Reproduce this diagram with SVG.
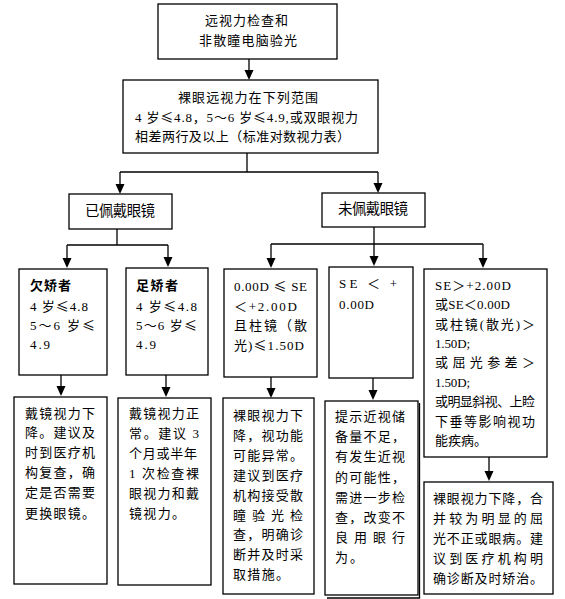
<svg xmlns="http://www.w3.org/2000/svg" width="565" height="599" viewBox="0 0 565 599">
<style>
.b{fill:#fff;stroke:#000;stroke-width:1.3}
.t{font-family:"Liberation Serif","Noto Sans CJK SC",serif;font-size:13px;fill:#000}
.h{font-family:"Noto Sans CJK SC","Liberation Sans",sans-serif;font-size:14.5px;fill:#000}
.cj{font-family:"Noto Sans CJK SC",sans-serif}
.bd{font-weight:bold}
.c{fill:none;stroke:#000;stroke-width:1.3}
</style>
<rect width="565" height="599" fill="#fff"/>
<g id="connectors">
<line class="c" x1="249" y1="59" x2="249" y2="72"/>
<line class="c" x1="247" y1="153" x2="247" y2="172"/>
<line class="c" x1="120" y1="172" x2="378" y2="172"/>
<line class="c" x1="117" y1="229" x2="117" y2="245"/>
<line class="c" x1="67" y1="245" x2="168" y2="245"/>
<line class="c" x1="374" y1="227" x2="374" y2="244"/>
<line class="c" x1="271" y1="244" x2="483" y2="244"/>
<g fill="#000">
<path d="M244.5,70 L253.5,70 L249,80 Z"/>
<line class="c" x1="120" y1="172" x2="120" y2="186"/><path d="M115.5,184 L124.5,184 L120,194 Z"/>
<line class="c" x1="378" y1="172" x2="378" y2="185"/><path d="M373.5,183 L382.5,183 L378,193 Z"/>
<line class="c" x1="67" y1="245" x2="67" y2="260"/><path d="M62.5,258 L71.5,258 L67,268 Z"/>
<line class="c" x1="168" y1="245" x2="168" y2="259"/><path d="M163.5,257 L172.5,257 L168,267 Z"/>
<line class="c" x1="271" y1="244" x2="271" y2="260"/><path d="M266.5,258 L275.5,258 L271,268 Z"/>
<line class="c" x1="374" y1="244" x2="374" y2="258"/><path d="M369.5,256 L378.5,256 L374,266 Z"/>
<line class="c" x1="483" y1="244" x2="483" y2="260"/><path d="M478.5,258 L487.5,258 L483,268 Z"/>
<line class="c" x1="61" y1="375" x2="61" y2="388"/><path d="M56.5,386 L65.5,386 L61,396 Z"/>
<line class="c" x1="166" y1="375" x2="166" y2="389"/><path d="M161.5,387 L170.5,387 L166,397 Z"/>
<line class="c" x1="271" y1="377" x2="271" y2="390"/><path d="M266.5,388 L275.5,388 L271,398 Z"/>
<line class="c" x1="373" y1="378" x2="373" y2="392"/><path d="M368.5,390 L377.5,390 L373,400 Z"/>
<line class="c" x1="489" y1="457" x2="489" y2="473"/><path d="M484.5,471 L493.5,471 L489,481 Z"/>
</g>
</g>
<g id="n-top">
<rect class="b" x="158" y="4" width="179" height="55"/>
<text class="t" x="205" y="25" textLength="83" lengthAdjust="spacing">远视力检查和</text>
<text class="t" x="199" y="45" textLength="98" lengthAdjust="spacing">非散瞳电脑验光</text>
</g>
<g id="n-range">
<rect class="b" x="123" y="80" width="255" height="73"/>
<text class="t" x="178" y="102" textLength="140" lengthAdjust="spacing">裸眼远视力在下列范围</text>
<text class="t" x="135" y="122" textLength="223" lengthAdjust="spacing">4 岁<tspan class="cj">≤</tspan>4.8，5～6 岁<tspan class="cj">≤</tspan>4.9,或双眼视力</text>
<text class="t" x="135" y="141" textLength="215" lengthAdjust="spacing">相差两行及以上（标准对数视力表）</text>
</g>
<g id="n-worn">
<rect class="b" x="69" y="194" width="103" height="35"/>
<text class="h" x="85" y="216" textLength="70" lengthAdjust="spacing">已佩戴眼镜</text>
</g>
<g id="n-notworn">
<rect class="b" x="322" y="193" width="103" height="34"/>
<text class="h" x="338" y="214" textLength="70" lengthAdjust="spacing">未佩戴眼镜</text>
</g>
<g id="n-under">
<rect class="b" x="19" y="269" width="88" height="106"/>
<text class="t bd" x="30" y="290" textLength="41" lengthAdjust="spacing">欠矫者</text>
<text class="t" x="30" y="311" textLength="58" lengthAdjust="spacing">4 岁<tspan class="cj">≤</tspan>4.8</text>
<text class="t" x="30" y="330" textLength="65" lengthAdjust="spacing">5～6 岁<tspan class="cj">≤</tspan></text>
<text class="t" x="30" y="349" textLength="20" lengthAdjust="spacing">4.9</text>
</g>
<g id="n-full">
<rect class="b" x="126" y="268" width="82" height="107"/>
<text class="t bd" x="136" y="290" textLength="42" lengthAdjust="spacing">足矫者</text>
<text class="t" x="136" y="311" textLength="61" lengthAdjust="spacing">4 岁<tspan class="cj">≤</tspan>4.8</text>
<text class="t" x="136" y="330" textLength="61" lengthAdjust="spacing">5～6 岁<tspan class="cj">≤</tspan></text>
<text class="t" x="136" y="349" textLength="20" lengthAdjust="spacing">4.9</text>
</g>
<g id="n-se0">
<rect class="b" x="224" y="269" width="93" height="108"/>
<text class="t" x="234" y="291" textLength="73" lengthAdjust="spacing">0.00D <tspan class="cj">≤</tspan> SE</text>
<text class="t" x="234" y="311" textLength="63" lengthAdjust="spacing">＜+2.00D</text>
<text class="t" x="234" y="330" textLength="73" lengthAdjust="spacing">且柱镜（散</text>
<text class="t" x="234" y="350" textLength="70" lengthAdjust="spacing">光)<tspan class="cj">≤</tspan>1.50D</text>
</g>
<g id="n-seneg">
<rect class="b" x="329" y="267" width="84" height="111"/>
<text class="t" x="339" y="288" textLength="58" lengthAdjust="spacing">SE ＜ +</text>
<text class="t" x="339" y="309" textLength="35" lengthAdjust="spacing">0.00D</text>
</g>
<g id="n-other">
<rect class="b" x="424" y="269" width="123" height="188"/>
<text class="t" x="435" y="290" textLength="76" lengthAdjust="spacing">SE＞+2.00D</text>
<text class="t" x="435" y="309" textLength="75" lengthAdjust="spacing">或SE＜0.00D</text>
<text class="t" x="435" y="329" textLength="100" lengthAdjust="spacing">或柱镜(散光)＞</text>
<text class="t" x="435" y="348" textLength="35" lengthAdjust="spacing">1.50D;</text>
<text class="t" x="435" y="367" textLength="100" lengthAdjust="spacing">或屈光参差＞</text>
<text class="t" x="435" y="387" textLength="35" lengthAdjust="spacing">1.50D;</text>
<text class="t" x="435" y="406" textLength="100" lengthAdjust="spacing">或明显斜视、上睑</text>
<text class="t" x="435" y="426" textLength="100" lengthAdjust="spacing">下垂等影响视功</text>
<text class="t" x="435" y="445" textLength="52" lengthAdjust="spacing">能疾病。</text>
</g>
<g id="n-under-res">
<rect class="b" x="14" y="397" width="93" height="187"/>
<text class="t" x="25" y="418" textLength="70" lengthAdjust="spacing">戴镜视力下</text>
<text class="t" x="25" y="437" textLength="70" lengthAdjust="spacing">降。建议及</text>
<text class="t" x="25" y="457" textLength="70" lengthAdjust="spacing">时到医疗机</text>
<text class="t" x="25" y="477" textLength="70" lengthAdjust="spacing">构复查，确</text>
<text class="t" x="25" y="497" textLength="70" lengthAdjust="spacing">定是否需要</text>
<text class="t" x="25" y="518" textLength="70" lengthAdjust="spacing">更换眼镜。</text>
</g>
<g id="n-full-res">
<rect class="b" x="118" y="398" width="93" height="187"/>
<text class="t" x="129" y="418" textLength="70" lengthAdjust="spacing">戴镜视力正</text>
<text class="t" x="129" y="438" textLength="70" lengthAdjust="spacing">常。建议 3</text>
<text class="t" x="129" y="458" textLength="68" lengthAdjust="spacing">个月或半年</text>
<text class="t" x="129" y="478" textLength="70" lengthAdjust="spacing">1 次检查裸</text>
<text class="t" x="129" y="498" textLength="70" lengthAdjust="spacing">眼视力和戴</text>
<text class="t" x="129" y="518" textLength="56" lengthAdjust="spacing">镜视力。</text>
</g>
<g id="n-se0-res">
<rect class="b" x="223" y="398" width="91" height="196"/>
<text class="t" x="233" y="420" textLength="70" lengthAdjust="spacing">裸眼视力下</text>
<text class="t" x="233" y="440" textLength="70" lengthAdjust="spacing">降，视功能</text>
<text class="t" x="233" y="460" textLength="70" lengthAdjust="spacing">可能异常。</text>
<text class="t" x="233" y="480" textLength="70" lengthAdjust="spacing">建议到医疗</text>
<text class="t" x="233" y="500" textLength="70" lengthAdjust="spacing">机构接受散</text>
<text class="t" x="233" y="520" textLength="70" lengthAdjust="spacing">瞳验光检</text>
<text class="t" x="233" y="539" textLength="70" lengthAdjust="spacing">查，明确诊</text>
<text class="t" x="233" y="559" textLength="70" lengthAdjust="spacing">断并及时采</text>
<text class="t" x="233" y="579" textLength="56" lengthAdjust="spacing">取措施。</text>
</g>
<g id="n-seneg-res">
<polyline class="c" points="327,598 419.5,598 419.5,403"/>
<rect class="b" x="325" y="401" width="93" height="194"/>
<text class="t" x="335" y="421" textLength="70" lengthAdjust="spacing">提示近视储</text>
<text class="t" x="335" y="441" textLength="70" lengthAdjust="spacing">备量不足，</text>
<text class="t" x="335" y="461" textLength="70" lengthAdjust="spacing">有发生近视</text>
<text class="t" x="335" y="482" textLength="70" lengthAdjust="spacing">的可能性，</text>
<text class="t" x="335" y="502" textLength="70" lengthAdjust="spacing">需进一步检</text>
<text class="t" x="335" y="522" textLength="70" lengthAdjust="spacing">查，改变不</text>
<text class="t" x="335" y="542" textLength="70" lengthAdjust="spacing">良用眼行</text>
<text class="t" x="335" y="562" textLength="28" lengthAdjust="spacing">为。</text>
</g>
<g id="n-other-res">
<rect class="b" x="424" y="482" width="129" height="112"/>
<text class="t" x="433" y="503" textLength="110" lengthAdjust="spacing">裸眼视力下降，合</text>
<text class="t" x="433" y="523" textLength="110" lengthAdjust="spacing">并较为明显的屈</text>
<text class="t" x="433" y="543" textLength="110" lengthAdjust="spacing">光不正或眼病。建</text>
<text class="t" x="433" y="563" textLength="110" lengthAdjust="spacing">议到医疗机构明</text>
<text class="t" x="433" y="583" textLength="110" lengthAdjust="spacing">确诊断及时矫治。</text>
</g>
</svg>
